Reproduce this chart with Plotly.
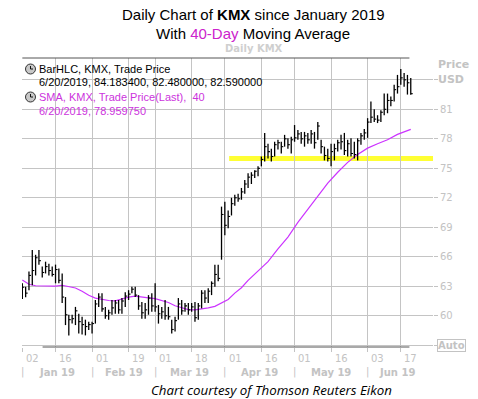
import plotly.graph_objects as go

# ---------------- data (trading-day index 0 = Jan 2 2019) ----------------
highs = [63.3, 62.95, 64.5, 66.7, 66.2, 66.7, 65.0, 65.5, 65.3, 65.0,
         65.2, 64.8, 64.3, 61.9, 60.1, 60.1, 60.9, 60.2, 59.9, 59.6,
         59.4, 59.4, 61.6, 62.3, 62.3, 60.9, 60.6, 61.6, 61.6, 61.6,
         61.8, 62.4, 62.6, 62.95, 62.95, 62.1, 61.4, 61.3, 62.1, 62.3,
         63.3, 61.1, 60.9, 61.6, 60.9, 59.6, 59.9, 61.8, 61.6, 61.3,
         61.3, 61.3, 61.4, 61.3, 62.6, 62.6, 62.8, 63.5, 65.2, 65.2,
         71.1, 71.6, 70.7, 72.0, 72.3, 72.4, 73.0, 73.8, 74.5, 74.6,
         74.8, 75.2, 76.2, 78.6, 77.5, 77.0, 77.7, 77.9, 77.7, 78.4,
         78.05, 78.2, 79.4, 78.9, 78.7, 78.7, 78.6, 78.9, 78.7, 79.7,
         77.9, 77.2, 77.0, 77.5, 77.5, 77.9, 78.4, 78.6, 77.9, 78.05,
         77.7, 78.05, 78.6, 79.0, 80.1, 81.8, 81.0, 80.4, 80.9, 82.6,
         82.6, 82.3, 83.5, 84.5, 85.1, 84.7, 84.5, 84.1834]
lows = [61.7, 61.87, 62.6, 63.1, 64.1, 65.2, 63.9, 64.3, 64.1, 64.0,
        63.3, 63.3, 61.3, 59.05, 58.0, 59.2, 59.05, 58.2, 58.1, 58.0,
        58.55, 58.2, 59.2, 60.9, 60.4, 59.7, 59.6, 60.1, 60.2, 60.2,
        60.2, 60.9, 61.6, 62.3, 61.9, 60.6, 59.7, 59.7, 60.1, 60.4,
        60.4, 59.2, 59.7, 59.6, 59.6, 58.2, 58.4, 59.6, 60.1, 60.4,
        60.1, 60.4, 59.4, 59.6, 60.75, 61.3, 61.3, 62.1, 62.95, 63.5,
        65.7, 68.2, 68.9, 70.2, 71.2, 71.6, 71.8, 72.4, 73.0, 73.4,
        74.0, 74.2, 75.2, 75.7, 76.0, 75.7, 76.2, 76.9, 76.5, 77.2,
        77.0, 76.5, 77.7, 77.9, 77.5, 77.2, 77.5, 77.5, 77.0, 77.9,
        76.5, 75.8, 75.7, 75.2, 75.8, 76.7, 76.9, 76.35, 76.2, 76.2,
        76.0, 75.8, 77.4, 77.9, 78.1, 79.6, 79.7, 79.6, 79.7, 80.4,
        80.6, 81.3, 81.8, 82.6, 83.5, 83.3, 82.5, 82.48]
closes = [62.9, 62.3, 64.1, 64.6, 65.9, 65.6, 64.4, 65.0, 64.6, 64.2,
          64.7, 63.6, 61.9, 60.1, 59.6, 59.7, 60.5, 59.4, 59.1, 58.9,
          59.1, 59.2, 61.2, 61.9, 60.7, 60.0, 60.3, 60.8, 61.3, 60.6,
          61.5, 62.0, 62.2, 62.7, 62.1, 61.0, 60.3, 60.6, 61.8, 61.0,
          60.9, 60.2, 60.4, 60.0, 59.9, 58.6, 59.5, 61.2, 60.5, 61.0,
          60.6, 60.9, 59.8, 61.0, 62.3, 61.8, 62.5, 63.3, 64.2, 63.8,
          70.3, 69.2, 70.1, 71.4, 72.0, 71.9, 72.6, 73.4, 74.1, 74.3,
          74.7, 75.0, 75.9, 77.2, 76.7, 76.2, 77.4, 77.6, 77.2, 78.0,
          77.4, 77.9, 78.1, 78.5, 78.0, 78.3, 77.9, 78.5, 77.6, 79.3,
          77.2, 76.3, 76.0, 76.7, 77.0, 77.6, 77.7, 76.8, 77.5, 76.5,
          76.4, 77.8, 78.3, 78.6, 79.7, 80.2, 80.0, 79.9, 80.7, 81.0,
          81.9, 81.9, 83.0, 83.3, 84.2, 84.0, 83.7, 82.59]

# 40-day SMA at sample trading-day indices
sma_idx = [0, 2, 4, 7, 10, 12, 14, 16, 18, 20, 22, 24, 26, 28, 30, 32, 34,
           36, 38, 40, 42, 44, 46, 48, 50, 52, 54, 56, 58, 60, 62, 64, 66,
           68, 71, 74, 77, 80, 83, 86, 89, 92, 95, 98, 101, 104, 107, 110,
           113, 117]
sma_val = [63.63, 63.2, 63.05, 63.0, 63.02, 63.1, 62.98, 62.82, 62.5, 62.08,
           61.8, 61.68, 61.55, 61.52, 61.72, 61.9, 62.0, 61.88, 61.82, 61.74,
           61.58, 61.35, 61.02, 60.8, 60.62, 60.6, 60.68, 60.8, 60.95, 61.28,
           61.65, 62.3, 62.85, 63.6, 64.5, 65.5, 66.8, 68.0, 69.5, 70.85,
           72.2, 73.5, 74.6, 75.6, 76.4, 77.05, 77.5, 77.9, 78.45, 78.96]

# x-axis ticks (trading-day index) and labels
tick_idx = [0, 10, 21, 32, 40, 51, 61, 72, 82, 93, 104, 114]
tick_day = ["02", "16", "01", "19", "01", "18", "01", "16", "01", "16", "03", "17"]
month_start = [0, 21, 40, 61, 82, 104]
month_end = [21, 40, 61, 82, 104, 122]
month_lbl = ["Jan 19", "Feb 19", "Mar 19", "Apr 19", "May 19", "Jun 19"]

# y-axis ticks
y_ticks = [57, 60, 63, 66, 69, 72, 75, 78, 81, 84]
y_text = ["", "60", "63", "66", "69", "72", "75", "78", "81", ""]

# support zone
zone_lo, zone_hi = 75.73, 76.25
zone_x0, zone_x1 = 62.3, 123.7

X_MIN, X_MAX = -0.1, 123.7
Y_MIN, Y_MAX = 56.82, 86.22

W, H = 478, 399
ML, MR, MT, MB = 22, 45, 58, 52
PW, PH = W - ML - MR, H - MT - MB

def px(x):  # figure pixel -> paper x
    return (x - ML) / PW

def py(y):  # figure pixel (from top) -> paper y
    return (H - MB - y) / PH

GRID = "#c4c4c4"
LBL = "#c3c3c3"
MAG_LINE = "#cc33ff"
MAG_TXT = "#cc33dd"

# ---------------- build bar segments ----------------
n = len(highs)
bx, by, cx, cy = [], [], [], []
for i in range(n):
    bx += [i, i, None]
    by += [lows[i], highs[i], None]
    cx += [i, i + 0.6, None]
    cy += [closes[i], closes[i], None]

fig = go.Figure()

fig.add_shape(type="rect", xref="x", yref="y", x0=zone_x0, x1=zone_x1,
              y0=zone_lo, y1=zone_hi, fillcolor="#ffff33", line_width=0,
              layer="below")

fig.add_trace(go.Scatter(x=sma_idx, y=sma_val, mode="lines",
                         line=dict(color=MAG_LINE, width=1.2), hoverinfo="skip"))
fig.add_trace(go.Scatter(x=bx, y=by, mode="lines",
                         line=dict(color="black", width=1.3), hoverinfo="skip"))
fig.add_trace(go.Scatter(x=cx, y=cy, mode="lines",
                         line=dict(color="black", width=1.1), hoverinfo="skip"))

def xpaper(v):
    return (v - X_MIN) / (X_MAX - X_MIN)

fig.add_shape(type="line", xref="paper", yref="paper", x0=xpaper(0), x1=xpaper(116.6),
              y0=1, y1=1, line=dict(color="#555555", width=1))
fig.add_shape(type="line", xref="paper", yref="paper", x0=xpaper(6.1), x1=xpaper(116.6),
              y0=0, y1=0, line=dict(color="#555555", width=1.2))

lbl_font = dict(family="DejaVu Sans", size=10, color=LBL)
for ti, tl in zip(tick_idx, tick_day):
    fig.add_annotation(x=ti + 0.5, y=py(358), xref="x", yref="paper", text=tl,
                       showarrow=False, xanchor="left", yanchor="middle", font=lbl_font)
for ms, me, ml in zip(month_start, month_end, month_lbl):
    fig.add_annotation(x=ms, y=py(372), xref="x", yref="paper", text="|",
                       showarrow=False, xanchor="center", yanchor="middle", font=lbl_font)
    fig.add_annotation(x=(ms + me) / 2, y=py(372), xref="x", yref="paper", text="<b>" + ml + "</b>",
                       showarrow=False, xanchor="center", yanchor="middle", font=lbl_font)

fig.add_annotation(x=1.0, y=84, xref="paper", yref="y", text="<b>USD</b>",
                   showarrow=False, xanchor="left", yanchor="middle", xshift=3,
                   font=dict(family="DejaVu Sans", size=11, color=LBL))
fig.add_annotation(x=1.0, y=84, xref="paper", yref="y", text="<b>Price</b>",
                   showarrow=False, xanchor="left", yanchor="middle", xshift=3,
                   yshift=15, font=dict(family="DejaVu Sans", size=11, color=LBL))
fig.add_annotation(x=1.0, y=57, xref="paper", yref="y", text="<b>Auto</b>",
                   showarrow=False, xanchor="left", yanchor="middle", xshift=4,
                   bordercolor=LBL, borderwidth=1, borderpad=0,
                   font=dict(family="DejaVu Sans", size=10, color=LBL))

fig.update_layout(
    width=W, height=H,
    margin=dict(l=ML, r=MR, t=MT, b=MB),
    paper_bgcolor="white", plot_bgcolor="white",
    showlegend=False,
    xaxis=dict(range=[X_MIN, X_MAX], tickvals=tick_idx, showticklabels=False,
               showgrid=True, gridcolor=GRID, gridwidth=1, zeroline=False,
               ticks="outside", ticklen=4, tickcolor=LBL, showline=False),
    yaxis=dict(range=[Y_MIN, Y_MAX], side="right", tickvals=y_ticks, ticktext=y_text,
               showgrid=True, gridcolor=GRID, gridwidth=1, zeroline=False,
               ticks="outside", ticklen=4, tickcolor=LBL,
               tickfont=dict(family="DejaVu Sans", size=10, color=LBL)),
)

title_font = dict(family="Liberation Sans, Arial", size=15, color="black")
fig.add_annotation(x=px(253), y=py(14), xref="paper", yref="paper", yanchor="middle",
                   text="Daily Chart of <b>KMX</b> since January 2019", showarrow=False,
                   font=title_font)
fig.add_annotation(x=px(253), y=py(33), xref="paper", yref="paper", yanchor="middle",
                   text="With <span style='color:#cc22cc'>40-Day</span> Moving Average",
                   showarrow=False, font=title_font)
fig.add_annotation(x=px(254), y=py(49), xref="paper", yref="paper", yanchor="middle",
                   text="<b>Daily KMX</b>", showarrow=False,
                   font=dict(family="DejaVu Sans", size=10, color="#cfcfcf"))

leg_rows = [("BarHLC, KMX, Trade Price", 69, "black"),
            ("6/20/2019, 84.183400, 82.480000, 82.590000", 82, "black"),
            ("SMA, KMX, Trade Price(Last),  40", 97, MAG_TXT),
            ("6/20/2019, 78.959750", 111, MAG_TXT)]
for txt, yy, col in leg_rows:
    fig.add_annotation(x=px(37), y=py(yy), xref="paper", yref="paper",
                       xanchor="left", yanchor="middle", text=txt, showarrow=False,
                       font=dict(family="Liberation Sans, Arial", size=11, color=col))
for yy in (69, 97):
    fig.add_shape(type="circle", xref="paper", yref="paper",
                  x0=px(25.5), x1=px(35.5), y0=py(yy + 5), y1=py(yy - 5),
                  fillcolor="#c8c8c8", line=dict(color="#333333", width=1))
    fig.add_shape(type="path", xref="paper", yref="paper",
                  path=f"M {px(30.5)} {py(yy - 3)} L {px(30.5)} {py(yy)} L {px(33)} {py(yy)}",
                  line=dict(color="#111111", width=1))

fig.add_annotation(x=px(271), y=py(390), xref="paper", yref="paper", yanchor="middle",
                   text="<i>Chart courtesy of Thomson Reuters Eikon</i>", showarrow=False,
                   font=dict(family="Open Sans", size=13.3, color="black"))

fig.write_html("out.html", config={"displayModeBar": False},
               post_script="document.body.style.margin='0px';")
